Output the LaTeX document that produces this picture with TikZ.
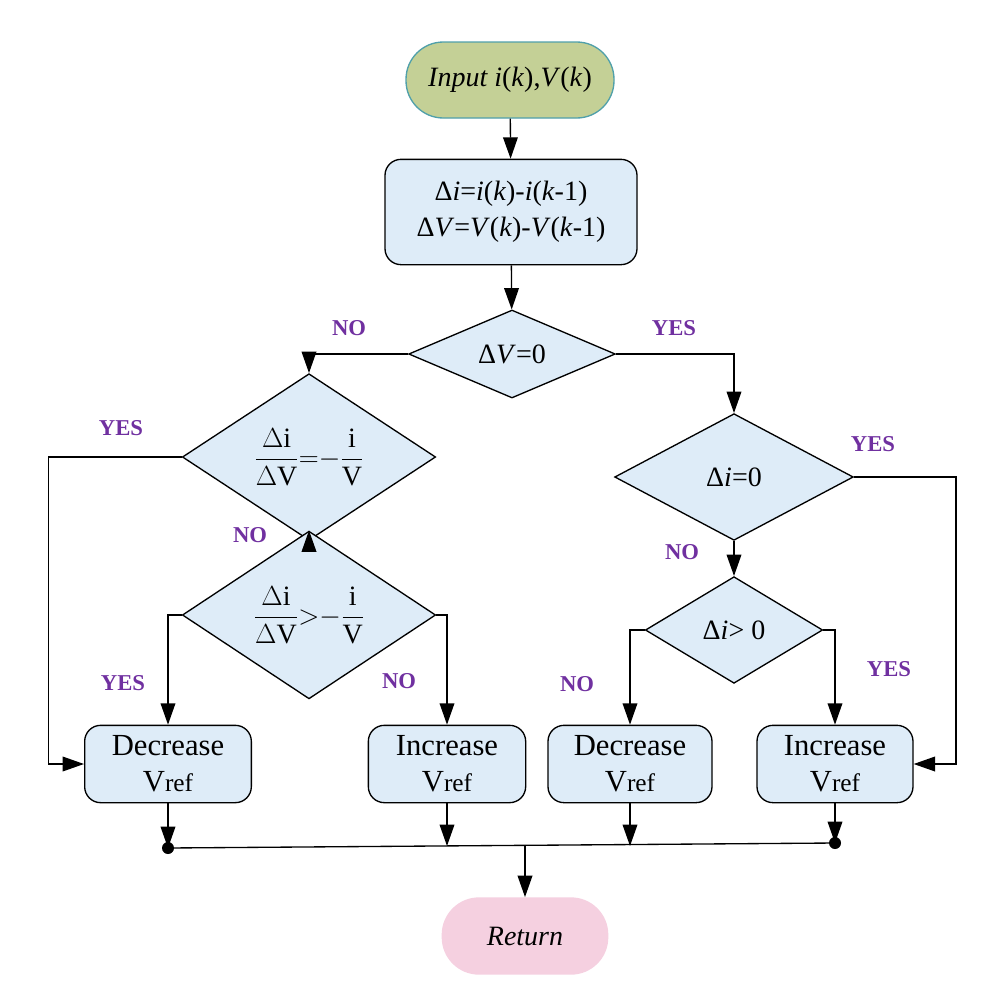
\documentclass[tikz,border=0pt]{standalone}
\usepackage{fontspec}
\setmainfont{Liberation Serif}
\usetikzlibrary{shapes.geometric,arrows.meta}
\definecolor{boxblue}{RGB}{222,236,248}
\definecolor{startgreen}{RGB}{196,208,150}
\definecolor{starttone}{RGB}{80,160,170}
\definecolor{endpink}{RGB}{245,208,224}
\definecolor{labpurple}{RGB}{112,48,160}
\tikzset{
	proc/.style={draw, fill=boxblue, rounded corners=12pt, line width=1pt, align=center, inner sep=0pt},
	test/.style={draw, diamond, fill=boxblue, line width=1pt, inner sep=0pt, align=center},
	act/.style={proc, minimum width=120pt, minimum height=58pt, font=\fontsize{23}{27}\selectfont},
	lab/.style={text=labpurple, font=\fontsize{17}{19}\selectfont\bfseries},
	arr/.style={-{Triangle[length=16pt,width=11pt]}, line width=1pt},
	ln/.style={line width=1pt},
}
\newcommand{\vrefs}{V{\fontsize{19}{21}\selectfont ref}}
\begin{document}
\begin{tikzpicture}[x=0.75pt, y=-0.75pt, font=\fontsize{21}{27}\selectfont]
		\useasboundingbox (0,0) rectangle (993,996);
		% terminals
		\node[draw=starttone, fill=startgreen, rounded corners=28pt, line width=1pt, minimum width=156pt, minimum height=57pt] (start) at (510,80) {\textit{Input i}(\textit{k}),\textit{V}(\textit{k})};
		\node[fill=endpink, rounded corners=28pt, minimum width=125pt, minimum height=58pt] (ret) at (525,936) {\textit{Return}};
		\node[proc, minimum width=189pt, minimum height=79pt] (diff) at (511,212) {Δ\textit{i}=\textit{i}(\textit{k})-\textit{i}(\textit{k}-1)\\Δ\textit{V}=\textit{V}(\textit{k})-\textit{V}(\textit{k}-1)};
		% decisions
		\node[test, minimum width=155pt, minimum height=66pt] (dv) at (512,354) {Δ\textit{V}=0};
		\node[test, minimum width=190pt, minimum height=94pt] (eq) at (309,457) {$\displaystyle\frac{\Delta\mathrm{i}}{\Delta\mathrm{V}}{=}{-}\frac{\mathrm{i}}{\mathrm{V}}$};
		\node[test, minimum width=190pt, minimum height=94pt] (gt) at (309,615) {$\displaystyle\frac{\Delta\mathrm{i}}{\Delta\mathrm{V}}{>}{-}\frac{\mathrm{i}}{\mathrm{V}}$};
		\node[test, minimum width=179pt, minimum height=95pt] (di) at (734,477) {Δ\textit{i}=0};
		\node[test, minimum width=133pt, minimum height=80pt] (dp) at (734,630) {Δ\textit{i}> 0};
		% actions
		\node[act, minimum width=125pt] (dec1) at (168,764) {Decrease\\\vrefs};
		\node[act, minimum width=118pt] (inc1) at (447,764) {Increase\\\vrefs};
		\node[act, minimum width=123pt] (dec2) at (630,764) {Decrease\\\vrefs};
		\node[act, minimum width=117pt] (inc2) at (835,764) {Increase\\\vrefs};
		% junction
		\coordinate (jl) at (168,848);
		\coordinate (jr) at (835,843);
		\coordinate (jm) at (525,846);
		\fill (jl) circle (6);
		\fill (jr) circle (6);
		\draw[ln] (jl) -- (jr);
		% connectors
		\draw[arr] (start) -- (diff);
		\draw[arr] (diff) -- (dv);
		\draw[arr] (dv.west) -| (eq.north);
		\draw[arr] (dv.east) -| (di.north);
		\draw[arr] (eq.south) -- (gt.north);
		\draw[arr] (eq.west) -- ++(-133,0) |- (dec1.west);
		\draw[arr] (gt.west) -| (dec1.north);
		\draw[arr] (gt.east) -| (inc1.north);
		\draw[arr] (di.south) -- (dp.north);
		\draw[arr] (di.east) -- ++(102,0) |- (inc2.east);
		\draw[arr] (dp.west) -| (dec2.north);
		\draw[arr] (dp.east) -| (inc2.north);
		\draw[arr] (dec1.south) -- (jl);
		\draw[arr] (inc1.south) -- (inc1.south |- jm);
		\draw[arr] (dec2.south) -- (dec2.south |- jm);
		\draw[arr] (inc2.south) -- (jr);
		\draw[arr] (jm) -- (ret);
		% labels
		\node[lab] (l1) at (349,328) {NO};
		\node[lab] (l2) at (674,328) {YES};
		\node[lab] (l3) at (121,428) {YES};
		\node[lab] (l4) at (250,535) {NO};
		\node[lab] (l5) at (873,444) {YES};
		\node[lab] (l6) at (682,552) {NO};
		\node[lab] (l7) at (123,683) {YES};
		\node[lab] (l8) at (399,681) {NO};
		\node[lab] (l9) at (577,684) {NO};
		\node[lab] (l10) at (889,669) {YES};
	\end{tikzpicture}
\end{document}
